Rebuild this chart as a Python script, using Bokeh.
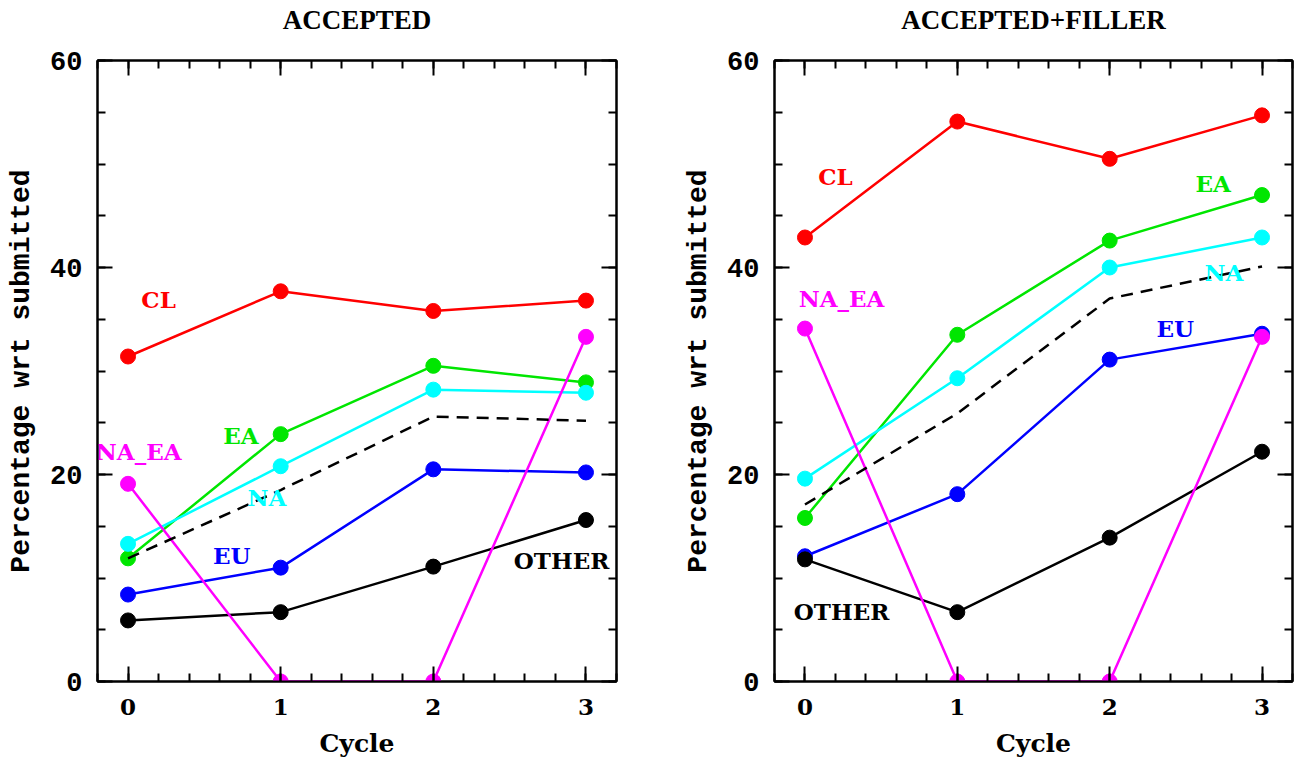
from bokeh.plotting import figure
from bokeh.layouts import row
from bokeh.models import LinearAxis, Range1d, FixedTicker, CustomLabelingPolicy
from bokeh.core.properties import value
from bokeh.embed import file_html
from bokeh.resources import INLINE

cycles = [0, 1, 2, 3]
series = ["CL", "EA", "NA", "EU", "OTHER", "NA_EA"]

# ACCEPTED
acc_CL = [31.4, 37.7, 35.8, 36.8]
acc_EA = [11.9, 23.9, 30.5, 28.9]
acc_NA = [13.3, 20.8, 28.2, 27.9]
acc_EU = [8.4, 11.0, 20.5, 20.2]
acc_OTHER = [5.9, 6.7, 11.1, 15.6]
acc_NA_EA = [19.1, 0.0, 0.0, 33.3]
acc_TOTAL = [11.9, 18.5, 25.6, 25.2]

# ACCEPTED+FILLER
fil_CL = [42.9, 54.1, 50.5, 54.7]
fil_EA = [15.8, 33.5, 42.6, 47.0]
fil_NA = [19.6, 29.3, 40.0, 42.9]
fil_EU = [12.1, 18.1, 31.1, 33.6]
fil_OTHER = [11.8, 6.7, 13.9, 22.2]
fil_NA_EA = [34.1, 0.0, 0.0, 33.3]
fil_TOTAL = [17.1, 25.9, 37.0, 40.1]

colors = {"CL": "#ff0000", "EA": "#00e600", "NA": "#00ffff", "EU": "#0000ff",
          "OTHER": "#000000", "NA_EA": "#ff00ff"}

acc_label_pos = {"CL": (0.2, 36.9), "EA": (0.74, 23.8), "NA_EA": (0.07, 22.2),
                 "NA": (0.91, 17.8), "EU": (0.68, 12.2), "OTHER": (2.84, 11.7)}
fil_label_pos = {"CL": (0.2, 48.8), "EA": (2.68, 48.1), "NA_EA": (0.24, 37.0),
                 "NA": (2.75, 39.5), "EU": (2.43, 34.1), "OTHER": (0.24, 6.75)}

acc_data = {"CL": acc_CL, "EA": acc_EA, "NA": acc_NA, "EU": acc_EU,
            "OTHER": acc_OTHER, "NA_EA": acc_NA_EA}
fil_data = {"CL": fil_CL, "EA": fil_EA, "NA": fil_NA, "EU": fil_EU,
            "OTHER": fil_OTHER, "NA_EA": fil_NA_EA}

SERIF = "DejaVu Serif"
TITLE_FONT = "Liberation Serif"
MONO = "Liberation Mono"

X_TICKS = [0, 1, 2, 3]
Y_TICKS = [0, 20, 40, 60]
X_MIN, X_MAX = -0.2, 3.2
Y_MIN, Y_MAX = 0, 60


def style_axis(ax, is_x, show_labels):
    ax.axis_line_width = 2
    ax.axis_line_color = "black"
    ax.major_tick_in = 15
    ax.major_tick_out = 0
    ax.minor_tick_in = 8
    ax.minor_tick_out = 0
    ax.major_tick_line_width = 2
    ax.minor_tick_line_width = 2
    ax.major_label_text_color = "black"
    ax.axis_label_text_color = "black"
    ticks = X_TICKS if is_x else Y_TICKS
    if is_x:
        ax.ticker = FixedTicker(ticks=ticks,
                                minor_ticks=[round(X_MIN + 0.2 * i, 2) for i in range(18)])
    else:
        ax.ticker = FixedTicker(ticks=ticks, minor_ticks=list(range(0, 61, 5)))
    if not show_labels:
        ax.major_label_overrides = {t: "" for t in ticks}
        ax.major_label_policy = CustomLabelingPolicy(code="return new Set()")
        ax.major_label_standoff = 0
        ax.axis_label = None


def make_panel(title, data, total, label_pos, width, border_left, border_right):
    p = figure(width=width, height=760, output_backend="svg", toolbar_location=None,
               x_range=Range1d(X_MIN, X_MAX), y_range=Range1d(Y_MIN, Y_MAX),
               min_border_left=border_left, min_border_right=border_right,
               min_border_top=60, min_border_bottom=78)
    p.xgrid.visible = False
    p.ygrid.visible = False
    p.outline_line_color = "black"
    p.outline_line_width = 2
    p.title.visible = False

    xa = p.xaxis[0]
    style_axis(xa, True, True)
    xa.axis_label = "Cycle"
    xa.axis_label_text_font = SERIF
    xa.axis_label_text_font_size = "25px"
    xa.axis_label_text_font_style = "bold"
    xa.axis_label_standoff = 11
    xa.major_label_text_font = SERIF
    xa.major_label_text_font_size = "23px"
    xa.major_label_text_font_style = "bold"
    xa.major_label_standoff = 17

    ya = p.yaxis[0]
    style_axis(ya, False, True)
    ya.axis_label = "Percentage wrt submitted"
    ya.axis_label_text_font = MONO
    ya.axis_label_text_font_size = "28px"
    ya.axis_label_text_font_style = "bold"
    ya.axis_label_standoff = 10
    ya.major_label_text_font = MONO
    ya.major_label_text_font_size = "27px"
    ya.major_label_text_font_style = "bold"
    ya.major_label_standoff = 15

    top = LinearAxis()
    style_axis(top, True, False)
    # panel title is carried by the top axis label
    top.axis_label = title
    top.axis_label_text_font = TITLE_FONT
    top.axis_label_text_font_size = "27px"
    top.axis_label_text_font_style = "bold"
    top.axis_label_standoff = 26
    p.add_layout(top, "above")
    right = LinearAxis()
    style_axis(right, False, False)
    p.add_layout(right, "right")

    for name in series:
        c = colors[name]
        p.line(cycles, data[name], line_color=c, line_width=2.5)
        p.scatter(cycles, data[name], size=15, fill_color=c, line_color=c)
    p.line(cycles, total, line_color="black", line_width=2.5, line_dash="12 8")

    for name in series:
        lx, ly = label_pos[name]
        p.text([lx], [ly], text=[name], text_color=colors[name],
               text_font=value(SERIF), text_font_size="23px", text_font_style="bold",
               text_align="center", text_baseline="middle")
    return p


p1 = make_panel("ACCEPTED", acc_data, acc_TOTAL, acc_label_pos, 660, 97, 44)
p2 = make_panel("ACCEPTED+FILLER", fil_data, fil_TOTAL, fil_label_pos, 636, 114, 4)

layout = row(p1, p2)
open("out.html", "w").write(file_html(layout, INLINE))
